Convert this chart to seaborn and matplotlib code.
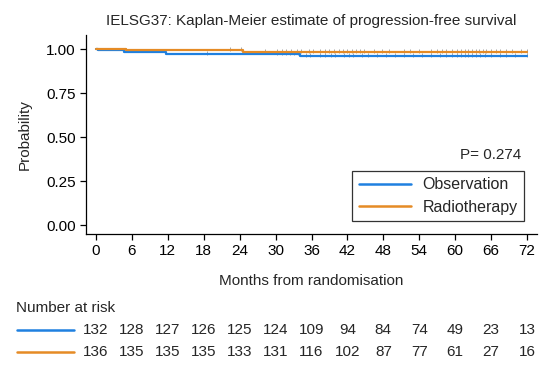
#!/usr/bin/env python3
"""
Kaplan-Meier plot of progression-free survival (IELSG37), with number-at-risk table.
"""

import numpy as np
import pandas as pd
import matplotlib
matplotlib.use("Agg")
import matplotlib.pyplot as plt
from matplotlib.lines import Line2D
from matplotlib.transforms import blended_transform_factory
import seaborn as sns

# Step curves (time in months, survival probability)
obs_time = [0, 0.4, 4.6, 11.7, 34.0, 72.0]
obs_surv = [1.0, 0.992, 0.985, 0.970, 0.961, 0.961]
rt_time = [0, 5.0, 24.5, 72.0]
rt_surv = [1.0, 0.993, 0.985, 0.985]

# Censoring times (estimated)
obs_censor = [18.5, 30.3, 31.0, 31.7, 32.4, 33.1, 33.7, 35.0, 35.8, 37.5, 38.3,
              39.2, 40.0, 41.5, 42.3, 43.0, 44.5, 45.5, 47.0, 48.5, 50.0, 51.5,
              53.0, 54.5, 56.0, 57.5, 58.5, 59.5, 60.3, 61.0, 61.6, 62.2, 62.8,
              63.4, 64.2, 65.0, 66.0, 67.5, 68.5, 70.0, 72.0]
rt_censor = [22.4, 24.3, 28.2, 30.3, 31.0, 31.8, 32.6, 33.5, 34.2, 35.5, 36.3,
             37.5, 38.2, 39.0, 39.8, 40.6, 41.3, 42.0, 42.7, 43.4, 44.1, 44.8,
             46.5, 47.8, 49.0, 51.5, 52.5, 54.0, 56.0, 57.0, 57.8, 58.5, 59.5,
             60.3, 61.0, 61.6, 62.2, 62.8, 63.4, 64.0, 64.6, 65.2, 66.0, 66.8,
             67.5, 68.5, 69.5, 71.0, 72.0]

groups = ["Observation", "Radiotherapy"]
colors = ["#1f80e0", "#e58b25"]
x_ticks = list(range(0, 73, 6))
y_ticks = [0.00, 0.25, 0.50, 0.75, 1.00]
obs_risk = [132, 128, 127, 126, 125, 124, 109, 94, 84, 74, 49, 23, 13]
rt_risk = [136, 135, 135, 135, 133, 131, 116, 102, 87, 77, 61, 27, 16]
p_value = "P= 0.274"


def step_value(times, surv, t):
    idx = np.searchsorted(times, t, side="right") - 1
    return surv[idx]


sns.set_theme(style="ticks")
plt.rcParams["font.family"] = ["Liberation Sans", "DejaVu Sans"]

curves = pd.concat([
    pd.DataFrame({"time": obs_time, "surv": obs_surv, "group": groups[0]}),
    pd.DataFrame({"time": rt_time, "surv": rt_surv, "group": groups[1]}),
])
censors = pd.concat([
    pd.DataFrame({"time": obs_censor,
                  "surv": [step_value(obs_time, obs_surv, t) for t in obs_censor],
                  "group": groups[0]}),
    pd.DataFrame({"time": rt_censor,
                  "surv": [step_value(rt_time, rt_surv, t) for t in rt_censor],
                  "group": groups[1]}),
])

W, H = 556, 370
fig = plt.figure(figsize=(W / 100, H / 100), dpi=100)
ax = fig.add_axes([86 / W, 1 - 234 / H, 451 / W, 199 / H])

sns.lineplot(data=curves, x="time", y="surv", hue="group", palette=colors,
             drawstyle="steps-post", estimator=None, sort=False,
             linewidth=1.6, legend=False, ax=ax)
for grp in groups:
    sub = censors[censors["group"] == grp]
    ax.plot(sub["time"], sub["surv"] + 0.005, linestyle="none", marker="|",
            markersize=3.5, markeredgewidth=0.6, color="#9a9a9a", zorder=1)

ax.set_xlim(-1.67, 73.67)
ax.set_ylim(-0.051, 1.08)
ax.set_xticks(x_ticks)
ax.set_yticks(y_ticks)
ax.set_yticklabels([f"{v:.2f}" for v in y_ticks])
ax.tick_params(axis="both", labelsize=11, length=4.5, width=0.9,
               color="black", labelcolor="black", pad=3)
ax.set_xlabel("Months from randomisation", fontsize=11, labelpad=11)
ax.set_ylabel("Probability", fontsize=11, labelpad=10)
ax.set_title("IELSG37: Kaplan-Meier estimate of progression-free survival",
             fontsize=11, pad=7)
sns.despine(ax=ax)
for s in ["left", "bottom"]:
    ax.spines[s].set_linewidth(0.9)
    ax.spines[s].set_color("black")

ax.text(71.0, 0.40, p_value, ha="right", va="center", fontsize=11)

handles = [Line2D([0], [0], color=c, lw=1.8) for c in colors]
leg = ax.legend(handles, groups, loc="upper right",
                bbox_to_anchor=(524 / W, 1 - 171 / H),
                bbox_transform=fig.transFigure, borderaxespad=0,
                fontsize=11.5, handlelength=3.3, handletextpad=0.7,
                labelspacing=0.45, borderpad=0.4, fancybox=False,
                framealpha=1, edgecolor="#333333")
leg.get_frame().set_linewidth(0.9)

# Number at risk table
fig.text(16 / W, 1 - 308 / H, "Number at risk", fontsize=11,
         ha="left", va="center")
trans = blended_transform_factory(ax.transData, fig.transFigure)
for risk, col, y_px in [(obs_risk, colors[0], 329.5), (rt_risk, colors[1], 351.5)]:
    y = 1 - y_px / H
    fig.add_artist(Line2D([17 / W, 74 / W], [y, y], color=col, lw=1.8,
                          transform=fig.transFigure))
    for t, n in zip(x_ticks, risk):
        ax.text(t, y, str(n), transform=trans, ha="center", va="center",
                fontsize=11, clip_on=False)

fig.savefig("out.png", dpi=100)
